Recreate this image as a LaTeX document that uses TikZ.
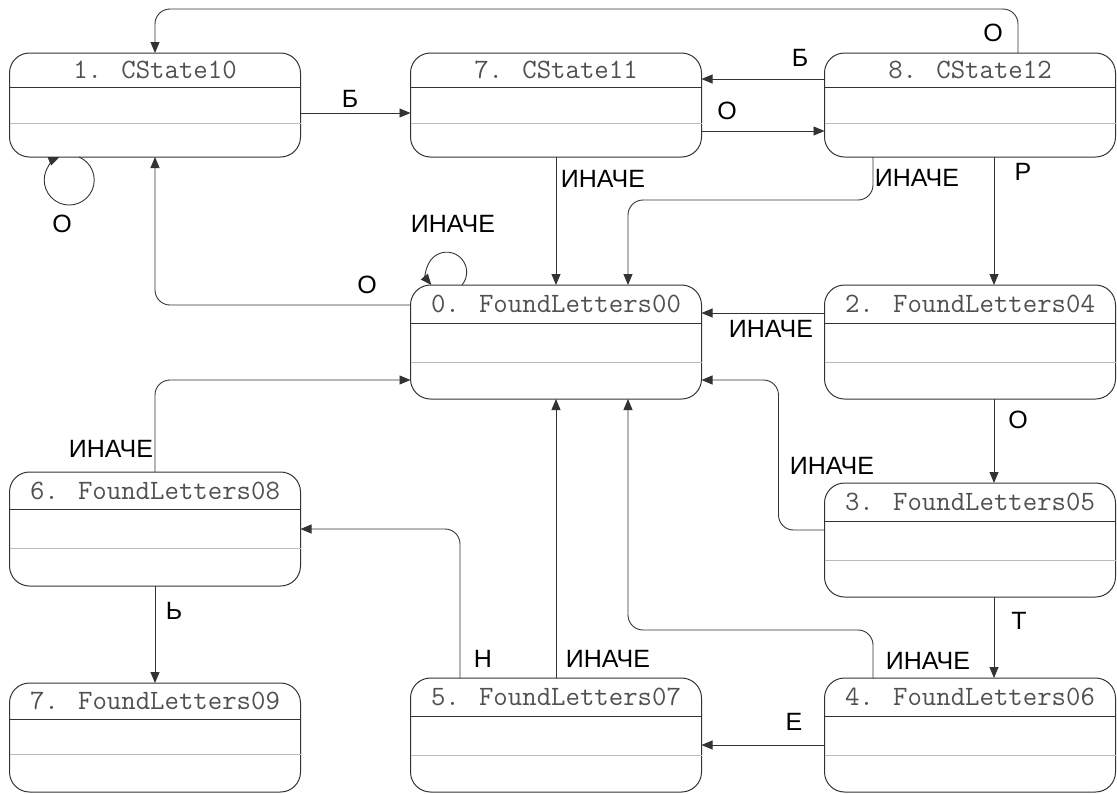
\documentclass[tikz,border=0pt]{standalone}
\usepackage{fontspec}
\setmainfont{Liberation Sans}
\usetikzlibrary{arrows.meta}
\definecolor{boxc}{HTML}{333333}
\definecolor{sepc}{HTML}{BBBBBB}
\definecolor{titc}{HTML}{505050}
\tikzset{
 sbox/.style={draw=boxc, line width=1pt, rounded corners=20pt, minimum width=291pt, inner sep=0pt, outer sep=0pt},
 ttl/.style={font=\ttfamily\fontsize{28}{28}\selectfont, text=titc, inner sep=0pt, anchor=center},
 hsep/.style={draw=boxc, line width=1pt},
 gsep/.style={draw=sepc, line width=1pt},
 conn/.style={draw=boxc, line width=0.9pt, rounded corners=15pt},
 arr/.style={conn, -{Triangle[length=11pt,width=9pt]}},
 lbl/.style={font=\fontsize{25}{25}\selectfont, inner sep=0pt, text=black},
}
% name, cx, top, height, title, line1 offset, line2 offset
\newcommand\mkstate[7]{%
 \node[sbox, minimum height=#4pt, anchor=north] (#1) at (#2,#3) {};
 \node[ttl] (#1t) at ([yshift=-0.5*#6pt]#1.north) {#5};
 \draw[hsep] ([yshift=-#6pt]#1.north west) -- ([yshift=-#6pt]#1.north east);
 \draw[gsep] ([yshift=-#7pt]#1.north west) -- ([yshift=-#7pt]#1.north east);
}
\begin{document}
\begin{tikzpicture}[x=1pt,y=-1pt]
\useasboundingbox (0,0) rectangle (1117,793);
\mkstate{s1}{155}{53}{104}{1. CState10}{34}{70}
\mkstate{s7}{556}{53}{104}{7. CState11}{34}{70}
\mkstate{s8}{970}{53}{104}{8. CState12}{34}{70}
\mkstate{f0}{556}{285}{114}{0. FoundLetters00}{38}{77}
\mkstate{f2}{970}{285}{114}{2. FoundLetters04}{38}{77}
\mkstate{f3}{970}{483}{114}{3. FoundLetters05}{38}{77}
\mkstate{f4}{970}{678}{114}{4. FoundLetters06}{38}{77}
\mkstate{f5}{556}{678}{114}{5. FoundLetters07}{38}{77}
\mkstate{f6}{155}{472}{114}{6. FoundLetters08}{37}{76}
\mkstate{f7}{155}{683}{109}{7. FoundLetters09}{36}{71}

% connectors
\draw[arr] ([xshift=48pt]s8.north) -- ++(0,-44) -| (s1.north);
\draw[arr] ([yshift=-8pt]s1.east) -- ([yshift=-8pt]s1.east -| s7.west);
\draw[arr] ([yshift=26pt]s8.west) -- ([yshift=26pt]s8.west -| s7.east);
\draw[arr] ([yshift=-26pt]s7.east) -- ([yshift=-26pt]s7.east -| s8.west);
\draw[arr] ([xshift=-76pt]s1.south) arc[start angle=-67, end angle=247, radius=25];
\draw[arr] ([yshift=37pt]f0.west) -| (s1.south);
\draw[arr] (s7.south) -- (s7.south |- f0.north);
\draw[arr] ([xshift=-97pt]s8.south) -- ++(0,43) -| ([xshift=72pt]f0.north);
\draw[arr] ([xshift=24pt]s8.south) -- ([xshift=24pt]f2.north);
\draw[arr] ([xshift=-94pt]f0.north) arc[start angle=40, end angle=-220, radius=20];
\draw[arr] ([yshift=29pt]f2.west) -- ([yshift=29pt]f2.west -| f0.east);
\draw[arr] ([xshift=24pt]f2.south) -- ([xshift=24pt]f3.north);
\draw[arr] ([yshift=10pt]f3.west) -- ++(-46,0) |- ([yshift=-38pt]f0.east);
\draw[arr] ([xshift=24pt]f3.south) -- ([xshift=24pt]f4.north);
\draw[arr] ([xshift=-97pt]f4.north) -- ++(0,-48) -| ([xshift=72pt]f0.south);
\draw[arr] ([yshift=-10pt]f4.west) -- ([yshift=-10pt]f4.west -| f5.east);
\draw[arr] (f5.north) -- (f5.north |- f0.south);
\draw[arr] ([xshift=-96pt]f5.north) |- (f6.east);
\draw[arr] (f6.north) |- ([yshift=-38pt]f0.west);
\draw[arr] (f6.south) -- (f7.north);

% labels
\node[lbl] (l1) at (993,33) {О};
\node[lbl] (l2) at (350,99) {Б};
\node[lbl] (l3) at (800,58) {Б};
\node[lbl] (l4) at (727,111) {О};
\node[lbl] (l5) at (62,224) {О};
\node[lbl] (l6) at (367,285) {О};
\node[lbl] (l7) at (603,179) {ИНАЧЕ};
\node[lbl] (l8) at (917,178) {ИНАЧЕ};
\node[lbl] (l9) at (1023,172) {Р};
\node[lbl] (l10) at (453,224) {ИНАЧЕ};
\node[lbl] (l11) at (771,329) {ИНАЧЕ};
\node[lbl] (l12) at (1018,420) {О};
\node[lbl] (l13) at (832,466) {ИНАЧЕ};
\node[lbl] (l14) at (1019,621) {Т};
\node[lbl] (l15) at (928,661) {ИНАЧЕ};
\node[lbl] (l16) at (794,722) {Е};
\node[lbl] (l17) at (483,659) {Н};
\node[lbl] (l18) at (608,659) {ИНАЧЕ};
\node[lbl] (l19) at (111,449) {ИНАЧЕ};
\node[lbl] (l20) at (174,611) {Ь};
\end{tikzpicture}
\end{document}
